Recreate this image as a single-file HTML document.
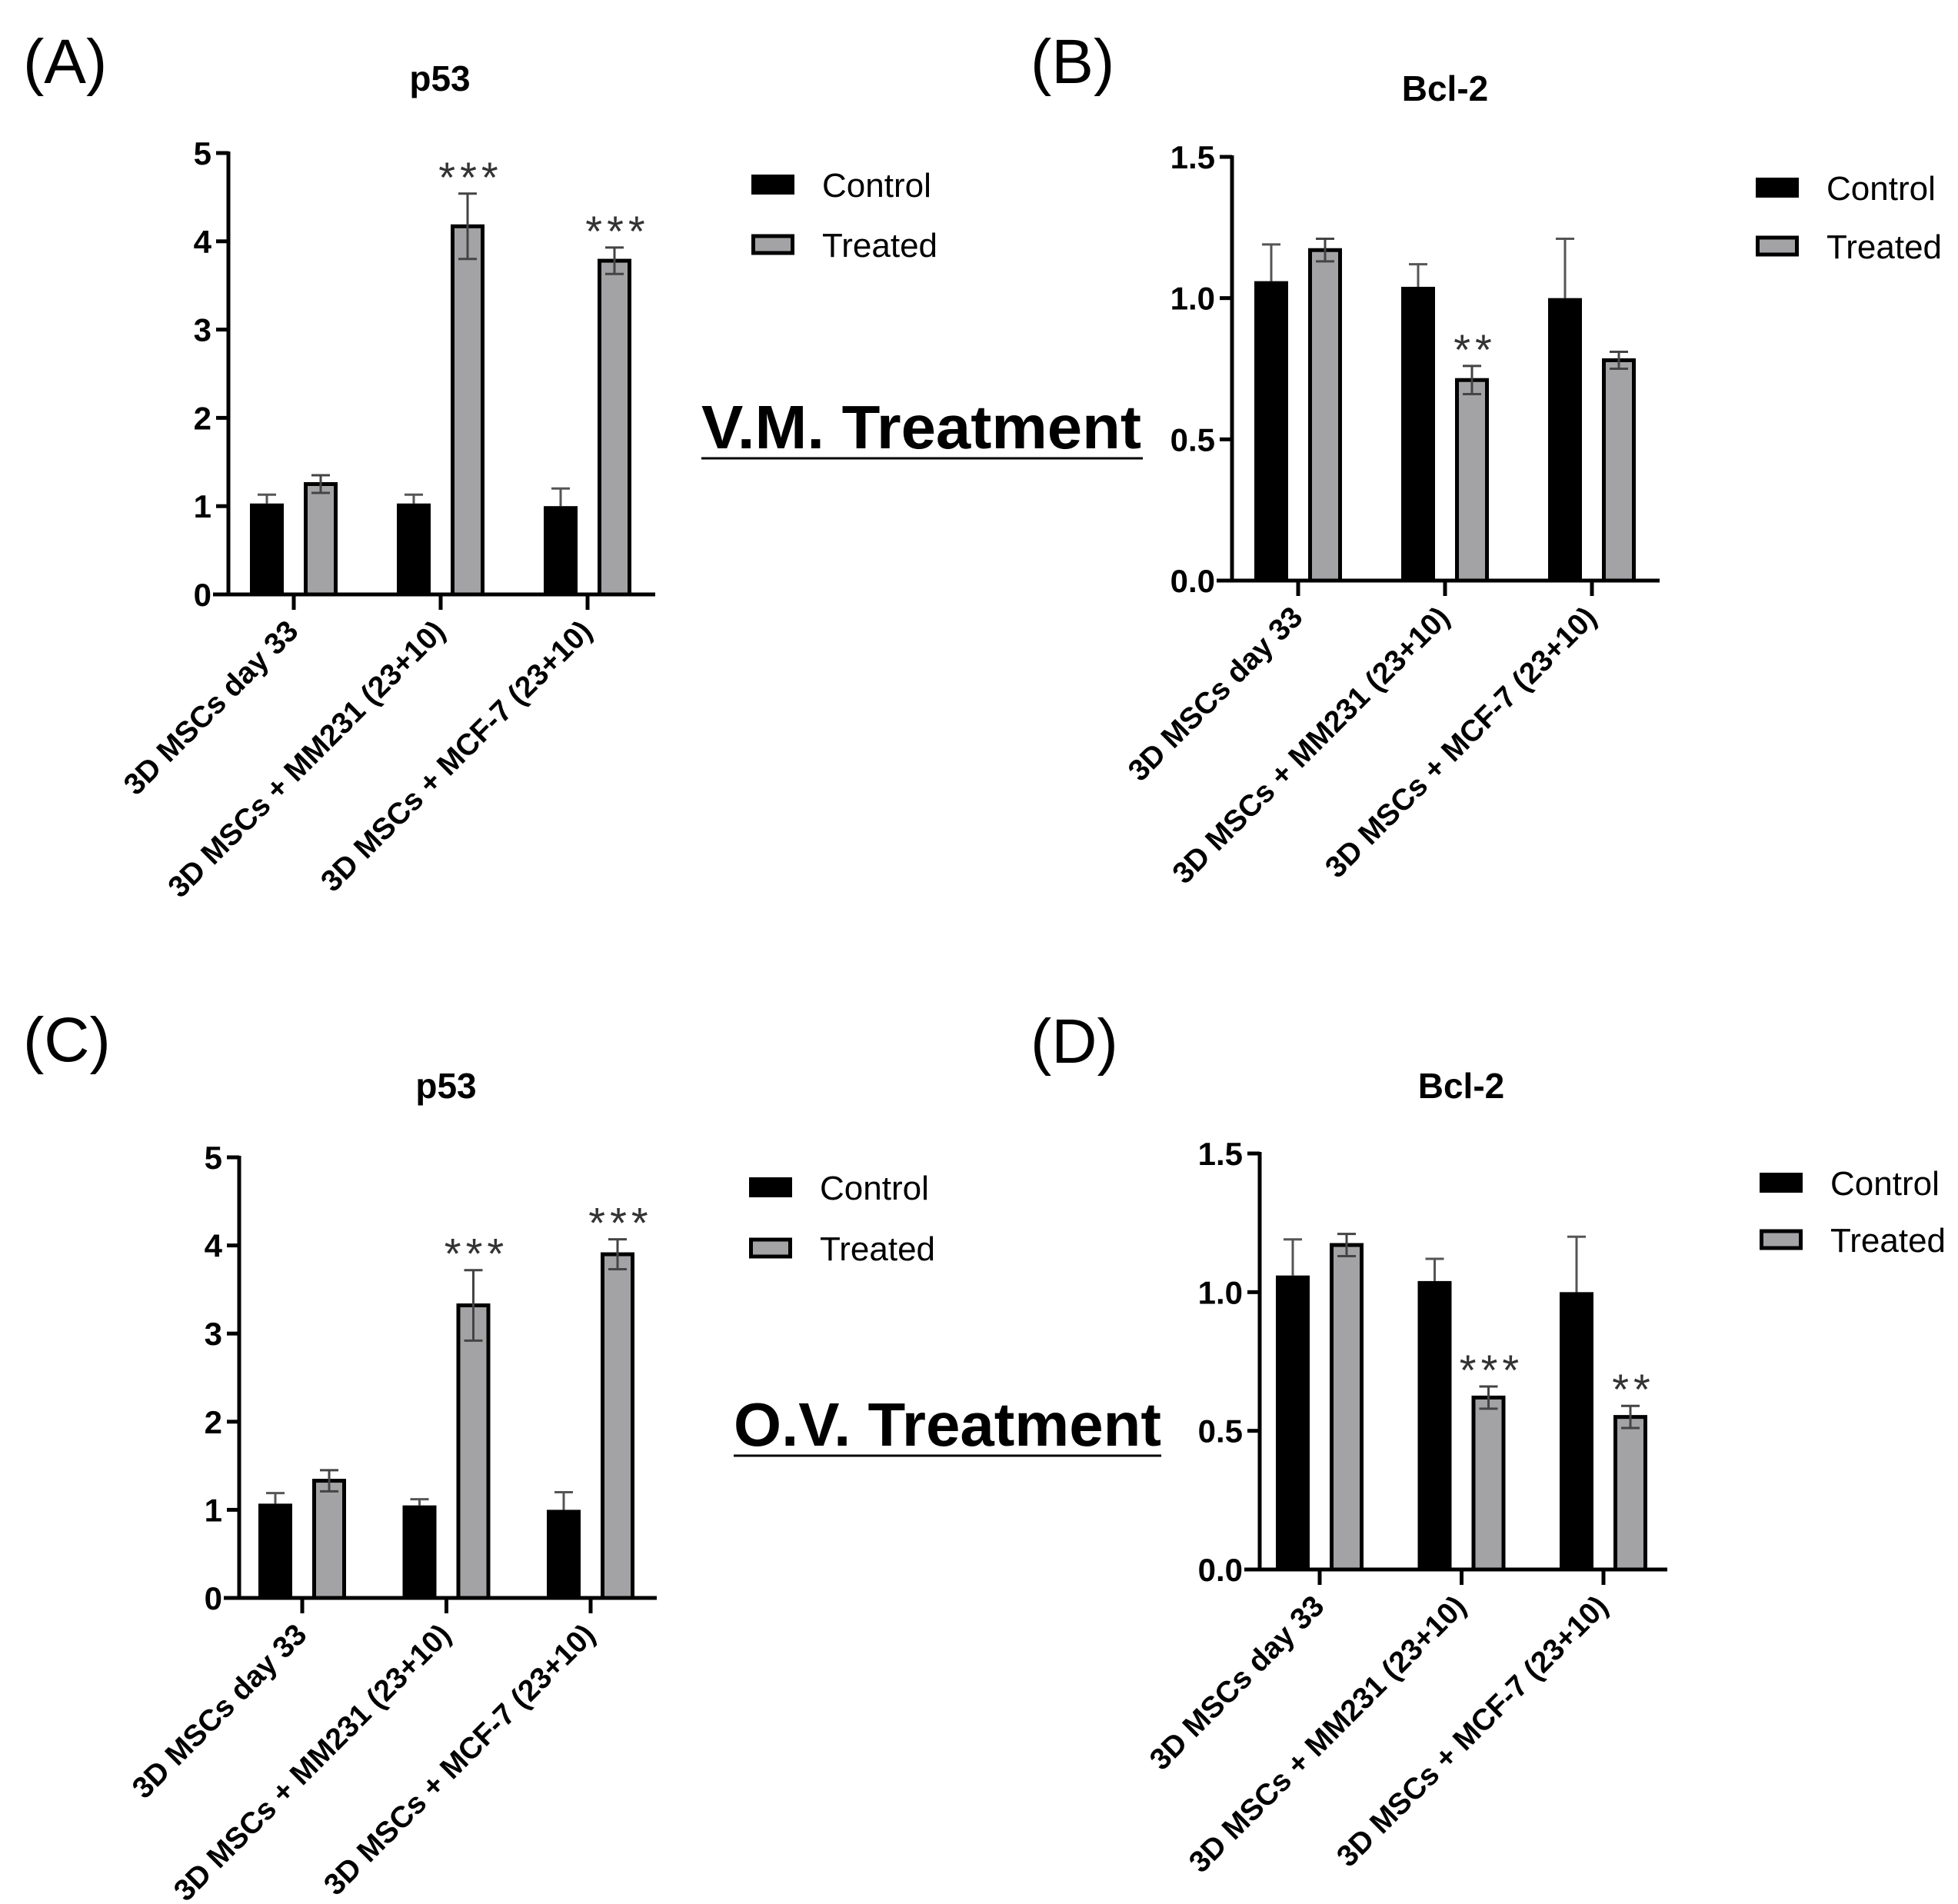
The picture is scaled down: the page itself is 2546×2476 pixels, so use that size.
<!DOCTYPE html>
<html><head><meta charset="utf-8"><style>
html,body{margin:0;padding:0;background:#fff}
svg{display:block}
text{font-family:"Liberation Sans",Arial,sans-serif}
</style></head><body>
<svg id="fig" width="2546" height="2476" viewBox="0 0 2546 2476" xmlns="http://www.w3.org/2000/svg">
<text x="30" y="108" font-size="82">(A)</text>
<text x="1340" y="108" font-size="82">(B)</text>
<text x="30" y="1380" font-size="82">(C)</text>
<text x="1340" y="1382" font-size="82">(D)</text>
<text x="912" y="583" font-size="80" font-weight="bold" textLength="572" lengthAdjust="spacingAndGlyphs">V.M. Treatment</text>
<line x1="912" y1="596" x2="1486" y2="596" stroke="#000" stroke-width="3"/>
<text x="954" y="1880" font-size="80" font-weight="bold" textLength="556" lengthAdjust="spacingAndGlyphs">O.V. Treatment</text>
<line x1="954" y1="1893" x2="1510" y2="1893" stroke="#000" stroke-width="3"/>
</svg>
<script>
const categories = ["3D MSCs day 33", "3D MSCs + MM231 (23+10)", "3D MSCs + MCF-7 (23+10)"];
const aControl = [1.03, 1.03, 1.0];
const aControlErr = [0.1, 0.1, 0.2];
const aTreated = [1.25, 4.17, 3.78];
const aTreatedErr = [0.1, 0.37, 0.15];
const aStars = ["", "***", "***"];
const bControl = [1.06, 1.04, 1.0];
const bControlErr = [0.13, 0.08, 0.21];
const bTreated = [1.17, 0.71, 0.78];
const bTreatedErr = [0.04, 0.05, 0.03];
const bStars = ["", "**", ""];
const cControl = [1.07, 1.05, 1.0];
const cControlErr = [0.12, 0.07, 0.2];
const cTreated = [1.33, 3.32, 3.9];
const cTreatedErr = [0.12, 0.4, 0.17];
const cStars = ["", "***", "***"];
const dControl = [1.06, 1.04, 1.0];
const dControlErr = [0.13, 0.08, 0.2];
const dTreated = [1.17, 0.62, 0.55];
const dTreatedErr = [0.04, 0.04, 0.04];
const dStars = ["", "***", "**"];
const p53Ticks = [0, 1, 2, 3, 4, 5];
const p53TickLabels = ["0", "1", "2", "3", "4", "5"];
const bclTicks = [0, 0.5, 1.0, 1.5];
const bclTickLabels = ["0.0", "0.5", "1.0", "1.5"];

const NS = "http://www.w3.org/2000/svg";
const svg = document.getElementById('fig');
function mk(tag, attrs, parent, txt) {
  const e = document.createElementNS(NS, tag);
  for (const k in attrs) e.setAttribute(k, attrs[k]);
  if (txt !== undefined) e.textContent = txt;
  (parent || svg).appendChild(e);
  return e;
}

function panel(p) {
  const g = mk('g', {});
  
  
  const y = v => p.y0 - (v / p.max) * (p.y0 - p.y1);
  const title = mk('text', {x: p.tx, y: p.ty, 'font-size': 46, 'font-weight': p.titleWeight, 'text-anchor': 'middle'}, g, p.title);
  
  
  const ya = mk('line', {x1: p.ax, y1: p.y1 - 2, x2: p.ax, y2: p.y0 + 2, stroke: '#000', 'stroke-width': 5}, g);
  
  
  p.ticks.forEach((t, i) => {
    mk('line', {x1: p.ax - 16, y1: y(t), x2: p.ax, y2: y(t), stroke: '#000', 'stroke-width': 5}, g);
    const tl = mk('text', {x: p.ax - 22, y: y(t) + 15, 'font-size': 42, 'font-weight': 'bold', 'text-anchor': 'end'}, g, p.tickLabels[i]);
    
    
  });
  const xa = mk('line', {x1: p.ax - 20, y1: p.y0, x2: p.xend, y2: p.y0, stroke: '#000', 'stroke-width': 5}, g);
  
  
  const bw = 44, off = 35;
  categories.forEach((c, i) => {
    const cx = p.g0 + i * p.gs;
    mk('line', {x1: cx, y1: p.y0, x2: cx, y2: p.y0 + 20, stroke: '#000', 'stroke-width': 5}, g);
    const lab = mk('text', {x: 0, y: 0, 'font-size': 39, 'font-weight': 'bold', 'text-anchor': 'end', transform: `translate(${cx + 8},${p.y0 + 50}) rotate(-45)`}, g, c);
    
    
    const cxl = cx - off, vc = p.control[i];
    mk('line', {x1: cxl, y1: y(vc), x2: cxl, y2: y(vc + p.controlErr[i]), stroke: '#555', 'stroke-width': 3}, g);
    mk('line', {x1: cxl - 12, y1: y(vc + p.controlErr[i]), x2: cxl + 12, y2: y(vc + p.controlErr[i]), stroke: '#555', 'stroke-width': 3}, g);
    const rc = mk('rect', {x: cxl - bw / 2, y: y(vc), width: bw, height: p.y0 - y(vc), fill: '#000'}, g);
    
    
    const cxr = cx + off, vt = p.treated[i];
    const rt = mk('rect', {x: cxr - bw / 2 + 2.5, y: y(vt), width: bw - 5, height: p.y0 - y(vt), fill: '#a3a3a6', stroke: '#000', 'stroke-width': 5}, g);
    
    
    const e = p.treatedErr[i];
    mk('line', {x1: cxr, y1: y(vt - e), x2: cxr, y2: y(vt + e), stroke: '#444', 'stroke-width': 3}, g);
    mk('line', {x1: cxr - 12, y1: y(vt + e), x2: cxr + 12, y2: y(vt + e), stroke: '#444', 'stroke-width': 3}, g);
    mk('line', {x1: cxr - 12, y1: y(vt - e), x2: cxr + 12, y2: y(vt - e), stroke: '#444', 'stroke-width': 3}, g);
    if (p.stars[i]) {
      const s = mk('text', {x: cxr + 4, y: y(vt + e) - 2, 'font-size': 56, fill: '#333', 'text-anchor': 'middle', 'letter-spacing': 6}, g, p.stars[i]);
      
      
    }
  });
  const l1 = mk('rect', {x: p.lx, y: p.ly - 13, width: 56, height: 26, fill: '#000'}, g);
  
  
  const t1 = mk('text', {x: p.lx + 92, y: p.ly + 16, 'font-size': 44}, g, 'Control');
  
  
  const l2 = mk('rect', {x: p.lx + 2.5, y: p.ly2 - 11, width: 51, height: 22, fill: '#a3a3a6', stroke: '#000', 'stroke-width': 5}, g);
  
  
  const t2 = mk('text', {x: p.lx + 92, y: p.ly2 + 16, 'font-size': 44}, g, 'Treated');
  
  
}

panel({id: 'panel-a', title: 'p53', titleWeight: 'bold', tx: 572, ty: 118, ax: 297, y0: 773, y1: 199, xend: 852, max: 5,
  ticks: p53Ticks, tickLabels: p53TickLabels, g0: 382, gs: 191,
  control: aControl, controlErr: aControlErr, treated: aTreated, treatedErr: aTreatedErr, stars: aStars,
  lx: 977, ly: 240, ly2: 318});
panel({id: 'panel-b', title: 'Bcl-2', titleWeight: 'bold', tx: 1879, ty: 131, ax: 1602, y0: 755, y1: 204, xend: 2158, max: 1.5,
  ticks: bclTicks, tickLabels: bclTickLabels, g0: 1688, gs: 191,
  control: bControl, controlErr: bControlErr, treated: bTreated, treatedErr: bTreatedErr, stars: bStars,
  lx: 2283, ly: 244, ly2: 320});
panel({id: 'panel-c', title: 'p53', titleWeight: 'bold', tx: 580, ty: 1428, ax: 311, y0: 2078, y1: 1505, xend: 854, max: 5,
  ticks: p53Ticks, tickLabels: p53TickLabels, g0: 393, gs: 187.5,
  control: cControl, controlErr: cControlErr, treated: cTreated, treatedErr: cTreatedErr, stars: cStars,
  lx: 974, ly: 1544, ly2: 1623});
panel({id: 'panel-d', title: 'Bcl-2', titleWeight: 'bold', tx: 1900, ty: 1428, ax: 1638, y0: 2041, y1: 1500, xend: 2168, max: 1.5,
  ticks: bclTicks, tickLabels: bclTickLabels, g0: 1716, gs: 184.5,
  control: dControl, controlErr: dControlErr, treated: dTreated, treatedErr: dTreatedErr, stars: dStars,
  lx: 2288, ly: 1538, ly2: 1612});
</script>
</body></html>
